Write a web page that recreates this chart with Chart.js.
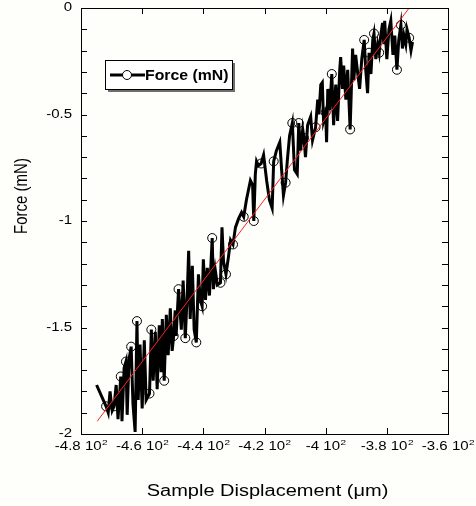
<!DOCTYPE html>
<html>
<head>
<meta charset="utf-8">
<script src="https://cdn.jsdelivr.net/npm/chart.js@4.4.0/dist/chart.umd.min.js"></script>
<style>
    html, body { margin: 0; padding: 0; background: #fefefa; }
    #wrap { width: 476px; height: 506px; }
</style>
</head>
<body>
<div id="wrap"><canvas id="chart" width="476" height="506"></canvas></div>
<script>
// DATA

// sample displacement (um) of each recorded point
const dispX = [
    -474.9, -471.8, -471.1, -470.5, -469.8, -469.2, -468.5, -467.9, -467.0, -466.6,
    -465.9, -465.3, -464.9, -464.3, -463.6, -463.0, -462.3, -461.7, -461.3, -460.7,
    -460.0, -459.3, -458.7, -457.6, -457.0, -456.4, -455.7, -455.1, -454.4, -453.8,
    -453.4, -452.8, -452.1, -451.5, -450.8, -450.2, -449.7, -449.2, -448.9, -448.1,
    -447.2, -446.6, -445.9, -445.2, -444.8, -444.3, -443.6, -443.0, -442.3, -441.6,
    -441.0, -440.4, -440.0, -439.3, -438.7, -438.0, -437.1, -436.7, -436.1, -435.4,
    -434.4, -433.9, -433.4, -432.6, -431.8, -431.1, -430.3, -429.5, -428.5, -427.5,
    -426.8, -425.9, -424.6, -423.9, -423.5, -423.0, -422.6, -422.0, -421.1, -420.3,
    -419.3, -418.4, -417.5, -417.0, -416.1, -415.0, -414.4, -413.8, -413.1, -412.5,
    -411.8, -410.9, -410.2, -409.3, -408.8, -408.2, -407.5, -407.1, -406.6, -405.9,
    -404.9, -404.3, -403.3, -402.6, -402.2, -401.6, -401.1, -400.7, -400.0, -399.7,
    -399.3, -398.7, -398.0, -397.4, -396.7, -396.1, -395.4, -395.1, -394.5, -394.1,
    -393.4, -392.8, -392.0, -391.2, -390.8, -390.2, -389.5, -388.9, -388.2, -387.4,
    -386.9, -386.3, -385.8, -385.2, -384.6, -384.2, -383.6, -383.0, -382.5, -382.0,
    -381.4, -381.0, -380.7, -380.0, -379.3, -378.7, -378.0, -377.4, -376.7, -376.1,
    -375.4, -374.9, -374.4, -373.8, -373.4, -372.7, -372.1, -371.6
];

// force (mN) at each point
const forceY = [
    -1.77, -1.87, -1.90, -1.80, -1.89, -1.87, -1.77, -1.93, -1.73, -1.94,
    -1.69, -1.66, -1.91, -1.65, -1.59, -1.86, -1.99, -1.47, -1.84, -1.58,
    -1.88, -1.56, -1.84, -1.81, -1.51, -1.75, -1.52, -1.79, -1.49, -1.71,
    -1.46, -1.75, -1.44, -1.63, -1.41, -1.61, -1.54, -1.42, -1.54, -1.32,
    -1.51, -1.28, -1.55, -1.32, -1.14, -1.46, -1.21, -1.51, -1.57, -1.25,
    -1.37, -1.40, -1.18, -1.37, -1.22, -1.35, -1.08, -1.32, -1.23, -1.30,
    -1.29, -1.03, -1.19, -1.25, -1.17, -1.09, -1.11, -1.03, -0.99, -0.96,
    -0.98, -0.90, -0.81, -0.83, -1.00, -0.78, -0.72, -0.74, -0.73, -0.69,
    -0.81, -0.90, -0.94, -0.72, -0.67, -0.63, -0.76, -0.88, -0.82, -0.71,
    -0.60, -0.54, -0.76, -0.78, -0.54, -0.67, -0.57, -0.61, -0.70, -0.55,
    -0.51, -0.62, -0.56, -0.43, -0.50, -0.36, -0.35, -0.53, -0.49, -0.63,
    -0.38, -0.48, -0.31, -0.55, -0.36, -0.53, -0.29, -0.23, -0.38, -0.27,
    -0.43, -0.29, -0.57, -0.19, -0.34, -0.22, -0.31, -0.38, -0.24, -0.15,
    -0.29, -0.40, -0.21, -0.31, -0.15, -0.12, -0.24, -0.17, -0.21, -0.13,
    -0.07, -0.17, -0.06, -0.24, -0.10, -0.06, -0.22, -0.13, -0.29, -0.15,
    -0.08, -0.19, -0.13, -0.17, -0.10, -0.14, -0.20, -0.16
];

// points that carry an open circle marker
const markerIdx = [
    1, 5, 8, 11, 14, 17, 23, 24, 31, 36, 39, 42, 48, 51, 56, 60, 63, 66, 70, 74,
    78, 83, 88, 91, 94, 97, 102, 108, 112, 122, 129, 132, 135, 138, 148, 150, 155
];

// linear fit drawn in red
const fitX = [-474.7, -372.7];
const fitY = [-1.94, 0];

const xTicks = [-480, -460, -440, -420, -400, -380, -360];
const yTicks = [-2, -1.5, -1, -0.5, 0];

const FONT = "'Liberation Sans', Arial, sans-serif";
// the original picture was widened, so its text is too
const SX = 1.25;

// HELPERS

function stretchText(ctx, text, x, y, align) {
    ctx.save();
    ctx.translate(x, y);
    ctx.scale(SX, 1);
    ctx.textAlign = align;
    ctx.fillText(text, 0, 0);
    ctx.restore();
}

// PLUGINS

// frame + inward tick marks, like the original plot
const framePlugin = {
    id: 'frame',
    afterDatasetsDraw(chart) {
        const { ctx, chartArea: a, scales: { x, y } } = chart;
        ctx.save();
        ctx.strokeStyle = '#000';
        ctx.lineWidth = 1;
        ctx.strokeRect(Math.round(a.left) + 0.5, Math.round(a.top) + 0.5,
            Math.round(a.right - a.left), Math.round(a.bottom - a.top));

        ctx.beginPath();
        for (let i = 0; i <= 20; i++) {
            const py = Math.round(y.getPixelForValue(-2 + i * 0.1)) + 0.5;
            ctx.moveTo(a.left, py);
            ctx.lineTo(a.left + 6, py);
            ctx.moveTo(a.right, py);
            ctx.lineTo(a.right - 6, py);
        }
        xTicks.forEach(v => {
            const px = Math.round(x.getPixelForValue(v)) + 0.5;
            ctx.moveTo(px, a.bottom);
            ctx.lineTo(px, a.bottom - 6);
            ctx.moveTo(px, a.top);
            ctx.lineTo(px, a.top + 6);
        });
        ctx.stroke();
        ctx.restore();
    }
};

// tick labels and axis titles
const textPlugin = {
    id: 'axisText',
    afterDraw(chart) {
        const { ctx, chartArea: a, scales: { x, y } } = chart;
        ctx.save();
        ctx.fillStyle = '#000';
        ctx.textBaseline = 'alphabetic';

        // x tick labels: "-4.6 10" + superscript 2
        xTicks.forEach(v => {
            const main = `${parseFloat((v / 100).toFixed(1))} 10`;
            ctx.font = `12px ${FONT}`;
            const wm = ctx.measureText(main).width * SX;
            ctx.font = `8px ${FONT}`;
            const ws = ctx.measureText('2').width * SX;
            const start = x.getPixelForValue(v) - (wm + ws) / 2;
            ctx.font = `12px ${FONT}`;
            stretchText(ctx, main, start, a.bottom + 16, 'left');
            ctx.font = `8px ${FONT}`;
            stretchText(ctx, '2', start + wm + 0.5, a.bottom + 11, 'left');
        });

        // y tick labels
        ctx.font = `12px ${FONT}`;
        ctx.textBaseline = 'middle';
        yTicks.forEach(v => {
            stretchText(ctx, String(v), a.left - 9, y.getPixelForValue(v), 'right');
        });

        // x title
        ctx.font = `16px ${FONT}`;
        ctx.textBaseline = 'alphabetic';
        stretchText(ctx, 'Sample Displacement (μm)', (a.left + a.right) / 2 + 3, a.bottom + 62, 'center');

        // y title (rotated, glyphs widened across the page)
        ctx.save();
        ctx.translate(a.left - 59, (a.top + a.bottom) / 2 - 25);
        ctx.scale(SX, 1);
        ctx.rotate(-Math.PI / 2);
        ctx.font = `15px ${FONT}`;
        ctx.textAlign = 'center';
        ctx.textBaseline = 'middle';
        ctx.fillText('Force (mN)', 0, 0);
        ctx.restore();

        ctx.restore();
    }
};

// boxed legend with a drop shadow
const legendPlugin = {
    id: 'boxLegend',
    afterDraw(chart) {
        const { ctx, chartArea: a } = chart;
        const bx = a.left + 24, by = a.top + 52, bw = 127, bh = 29;
        ctx.save();
        ctx.fillStyle = '#6e6e6e';
        ctx.fillRect(bx + 3, by + 3, bw, bh);
        ctx.fillStyle = '#ffffff';
        ctx.fillRect(bx, by, bw, bh);
        ctx.strokeStyle = '#000';
        ctx.lineWidth = 1;
        ctx.strokeRect(bx + 0.5, by + 0.5, bw, bh);

        const cy = by + 15;
        ctx.lineWidth = 3;
        ctx.beginPath();
        ctx.moveTo(bx + 5, cy);
        ctx.lineTo(bx + 40, cy);
        ctx.stroke();
        ctx.lineWidth = 1;
        ctx.fillStyle = '#ffffff';
        ctx.beginPath();
        ctx.arc(bx + 22, cy, 4.5, 0, Math.PI * 2);
        ctx.fill();
        ctx.stroke();

        ctx.fillStyle = '#000';
        ctx.font = `bold 14px ${FONT}`;
        ctx.textBaseline = 'middle';
        ctx.save();
        ctx.translate(bx + 40, cy + 1);
        ctx.scale(1.13, 1);
        ctx.fillText(chart.data.datasets[0].label, 0, 0);
        ctx.restore();
        ctx.restore();
    }
};

// CHART

const ctx = document.getElementById('chart');

new Chart(ctx, {
    type: 'scatter',
    data: {
        datasets: [{
            label: 'Force (mN)',
            data: dispX.map((v, i) => ({ x: v, y: forceY[i] })),
            showLine: true,
            borderColor: '#000',
            borderWidth: 3,
            borderJoinStyle: 'miter',
            pointRadius: c => markerIdx.includes(c.dataIndex) ? 4.5 : 0,
            pointBorderWidth: 1,
            pointBorderColor: '#000',
            pointBackgroundColor: 'rgba(0,0,0,0)',
            order: 2
        }, {
            label: 'fit',
            data: fitX.map((v, i) => ({ x: v, y: fitY[i] })),
            showLine: true,
            borderColor: '#ff2020',
            borderWidth: 1,
            pointRadius: 0,
            order: 1
        }]
    },
    options: {
        responsive: false,
        animation: false,
        events: [],
        layout: {
            padding: { left: 0, right: 28, top: 8, bottom: 0 }
        },
        plugins: {
            legend: { display: false },
            tooltip: { enabled: false }
        },
        scales: {
            x: {
                type: 'linear',
                min: -480,
                max: -360,
                afterFit: s => { s.height = 72; },
                grid: { display: false, drawTicks: false },
                border: { display: false },
                ticks: { display: false }
            },
            y: {
                type: 'linear',
                min: -2,
                max: 0,
                afterFit: s => { s.width = 81; },
                grid: { display: false, drawTicks: false },
                border: { display: false },
                ticks: { display: false }
            }
        }
    },
    plugins: [framePlugin, textPlugin, legendPlugin]
});
</script>
</body>
</html>
